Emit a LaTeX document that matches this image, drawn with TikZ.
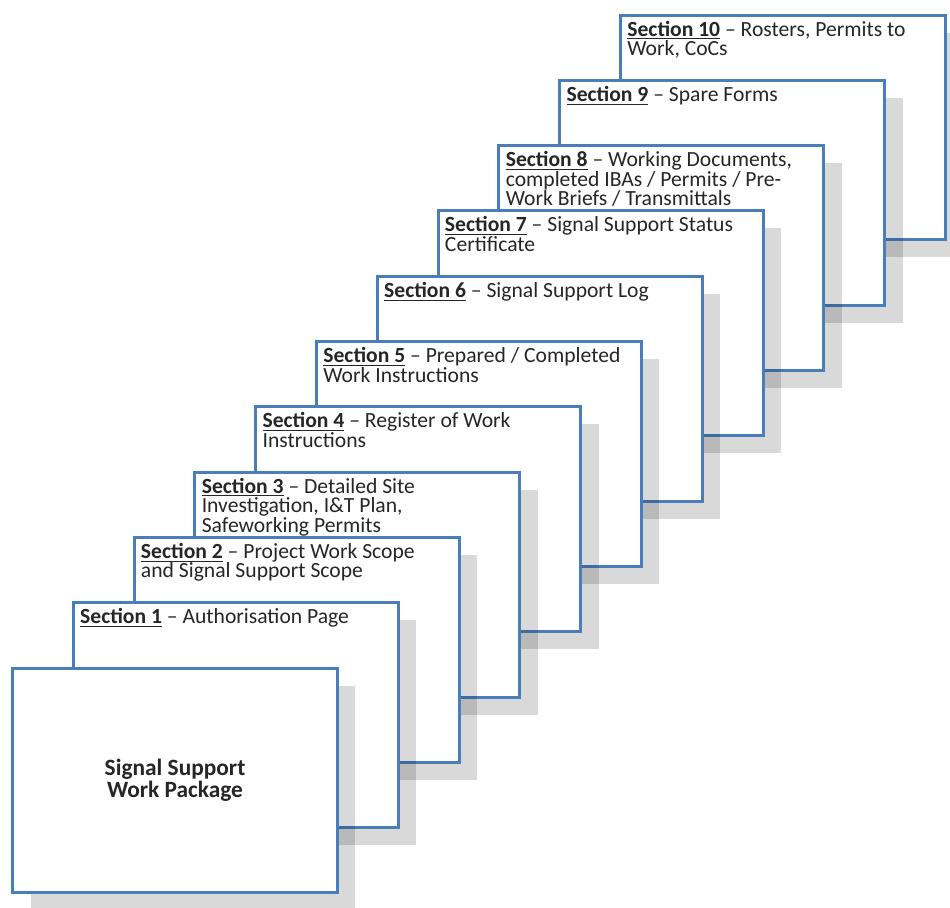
\documentclass[tikz,border=0pt]{standalone}
\usepackage{fontspec}
\setmainfont{Carlito}
\usetikzlibrary{shadows}
\definecolor{sheetblue}{HTML}{4A7EBB}
\definecolor{inktext}{HTML}{262626}

\begin{document}
\begin{tikzpicture}[x=0.02cm,y=-0.02cm,
		sheet/.style={draw=sheetblue,line width=1.7pt,fill=white,
			minimum width=6.5cm,minimum height=4.5cm,inner sep=0pt,
			drop shadow={shadow xshift=0.36cm,shadow yshift=-0.35cm,fill=black,opacity=0.15}},
		caption/.style={anchor=north west,inner sep=0pt,align=left,text=inktext,
			xshift=0.16cm,yshift=-0.14cm,font=\fontsize{12.3}{11.1}\selectfont}]
		
		\useasboundingbox (0,0) rectangle (950,908);
		
		\node[sheet] (s10) at (783,127.5) {};
		\node[caption] (t10) at (s10.north west) {\underline{\textbf{Section 10}} -- Rosters, Permits to\\Work, CoCs};
		
		\node[sheet] (s9) at (722.2,192.8) {};
		\node[caption] (t9) at (s9.north west) {\underline{\textbf{Section 9}} -- Spare Forms};
		
		\node[sheet] (s8) at (661.4,258.1) {};
		\node[caption] (t8) at (s8.north west) {\underline{\textbf{Section 8}} -- Working Documents,\\completed IBAs / Permits / Pre-\\Work Briefs / Transmittals};
		
		\node[sheet] (s7) at (600.6,323.4) {};
		\node[caption] (t7) at (s7.north west) {\underline{\textbf{Section 7}} -- Signal Support Status\\Certificate};
		
		\node[sheet] (s6) at (539.8,388.7) {};
		\node[caption] (t6) at (s6.north west) {\underline{\textbf{Section 6}} -- Signal Support Log};
		
		\node[sheet] (s5) at (479,454) {};
		\node[caption] (t5) at (s5.north west) {\underline{\textbf{Section 5}} -- Prepared / Completed\\Work Instructions};
		
		\node[sheet] (s4) at (418.2,519.3) {};
		\node[caption] (t4) at (s4.north west) {\underline{\textbf{Section 4}} -- Register of Work\\Instructions};
		
		\node[sheet] (s3) at (357.4,584.6) {};
		\node[caption] (t3) at (s3.north west) {\underline{\textbf{Section 3}} -- Detailed Site\\Investigation, I\&T Plan,\\Safeworking Permits};
		
		\node[sheet] (s2) at (296.6,649.9) {};
		\node[caption] (t2) at (s2.north west) {\underline{\textbf{Section 2}} -- Project Work Scope\\and Signal Support Scope};
		
		\node[sheet] (s1) at (235.8,715.2) {};
		\node[caption] (t1) at (s1.north west) {\underline{\textbf{Section 1}} -- Authorisation Page};
		
		\node[sheet] (s0) at (175,780.5) {};
		\node[align=center,text=inktext,font=\bfseries\fontsize{13.3}{11.4}\selectfont] (title) at (s0) {Signal Support\\Work Package};
	\end{tikzpicture}
\end{document}
